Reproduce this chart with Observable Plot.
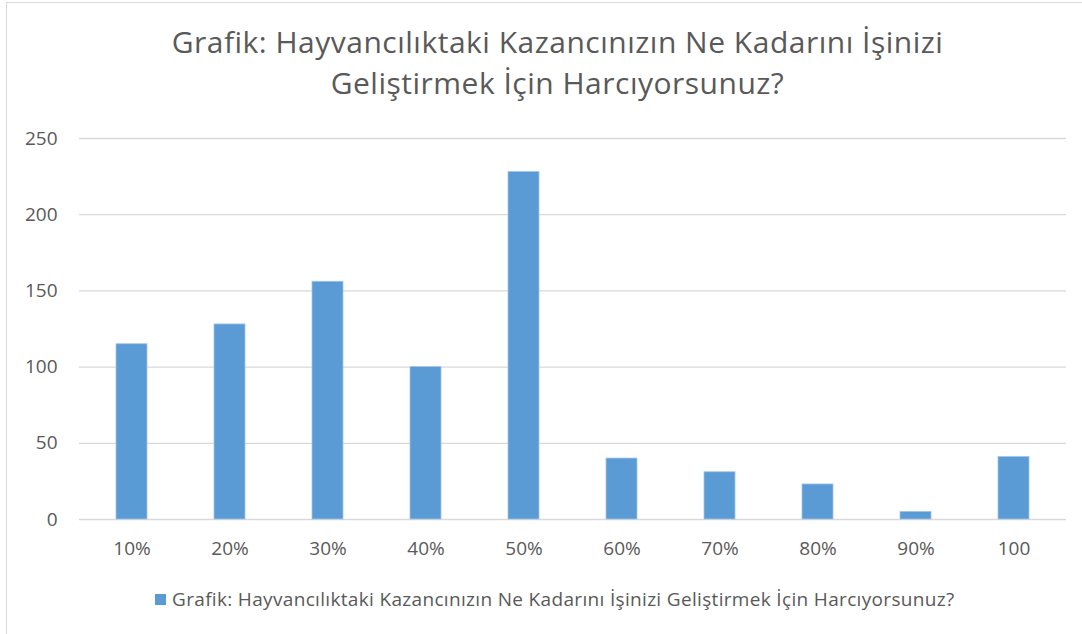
<!DOCTYPE html>
<html>
<head>
<meta charset="utf-8">
<script src="https://cdn.jsdelivr.net/npm/d3@7"></script>
<script src="https://cdn.jsdelivr.net/npm/@observablehq/plot@0.6"></script>
<style>
  html, body { margin: 0; padding: 0; background: #fff; }
  #wrap { position: relative; width: 1082px; height: 634px; overflow: hidden; font-family: "Open Sans", sans-serif; color: #595959; }
  #frame { position: absolute; left: 6px; top: 2px; width: 1200px; height: 800px; border: 1.5px solid #d9d9d9; box-sizing: border-box; }
  #title { position: absolute; left: 0; width: 1115px; top: 21px; text-align: center; font-size: 30px; letter-spacing: 0.5px; line-height: 41px; }
  #chart { position: absolute; left: 0; top: 110px; }
  #legend { position: absolute; left: 155px; top: 586px; font-size: 19px; letter-spacing: 0.33px; line-height: 26px; white-space: nowrap; display: flex; align-items: center; }
  #legend .sw { width: 11px; height: 11px; background: #5b9bd5; margin-right: 6px; }
</style>
</head>
<body>
<div id="wrap">
  <div id="frame"></div>
  <div id="title">Grafik: Hayvancılıktaki Kazancınızın Ne Kadarını İşinizi<br>Geliştirmek İçin Harcıyorsunuz?</div>
  <div id="chart"></div>
  <div id="legend"><span class="sw"></span><span>Grafik: Hayvancılıktaki Kazancınızın Ne Kadarını İşinizi Geliştirmek İçin Harcıyorsunuz?</span></div>
</div>
<script>
const categories = ["10%", "20%", "30%", "40%", "50%", "60%", "70%", "80%", "90%", "100"];
const values = [115, 128, 156, 100, 228, 40, 31, 23, 5, 41];
const yTicks = [0, 50, 100, 150, 200, 250];

const data = categories.map((c, i) => ({category: c, value: values[i]}));

const chart = Plot.plot({
  width: 1082,
  height: 460,
  marginTop: 28,
  marginBottom: 51,
  marginLeft: 79,
  marginRight: 16,
  style: {fontFamily: "Open Sans, sans-serif", fontSize: "19px", color: "#595959", background: "transparent"},
  x: {domain: categories, paddingInner: 0.686, paddingOuter: 0.343, label: null},
  y: {domain: [0, 250], ticks: yTicks, label: null},
  marks: [
    Plot.ruleY(yTicks, {stroke: "#d9d9d9", strokeWidth: 1.3}),
    Plot.barY(data, {x: "category", y: "value", fill: "#5b9bd5", stroke: "#a3c4e8", strokeWidth: 0.8}),
    Plot.axisX({tickSize: 0, tickPadding: 22, fontSize: 19, fill: "#595959"}),
    Plot.axisY({ticks: yTicks, tickSize: 0, tickPadding: 22, fontSize: 19, fill: "#595959"})
  ]
});
document.getElementById("chart").appendChild(chart);
</script>
</body>
</html>
